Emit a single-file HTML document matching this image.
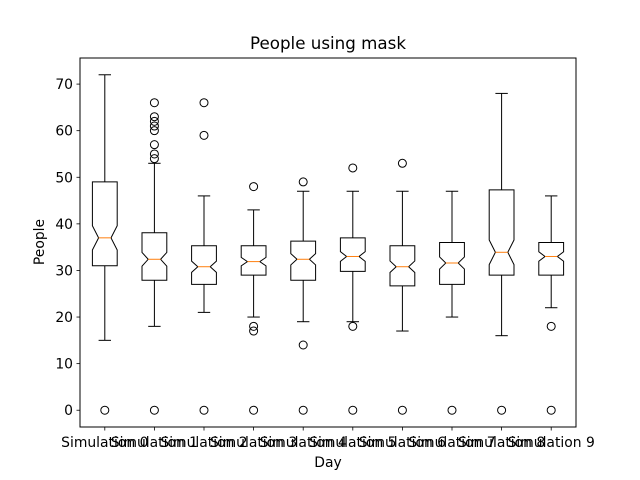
<!DOCTYPE html>
<html><head><meta charset="utf-8">
<style>body{margin:0;background:#fff}svg{display:block;font-family:"DejaVu Sans","Liberation Sans",sans-serif}</style>
</head><body>
<svg id="chart" width="640" height="480" viewBox="0 0 640 480" xmlns="http://www.w3.org/2000/svg">
<rect width="640" height="480" fill="#fff"/>
<text x="328" y="49" font-size="16.7" text-anchor="middle">People using mask</text>
<text x="328" y="467" font-size="13.9" text-anchor="middle">Day</text>
<text x="0" y="0" font-size="13.9" text-anchor="middle" transform="translate(44,242) rotate(-90)">People</text>
<g id="plot"></g>
<rect x="80" y="58" width="496" height="369" fill="none" stroke="#000" stroke-width="1"/>
</svg>
<script>
const categories = ["Simulation 0","Simulation 1","Simulation 2","Simulation 3","Simulation 4","Simulation 5","Simulation 6","Simulation 7","Simulation 8","Simulation 9"];
const whiskerLow = [15,18,21,20,19,19,17,20,16,22];
const q1 = [31,27.9,27,29,27.9,29.8,26.7,27,29,29];
const medians = [37,32.4,30.8,31.9,32.4,33,30.8,31.6,33.9,33];
const q3 = [49,38.1,35.3,35.3,36.3,37,35.3,36,47.3,36];
const whiskerHigh = [72,53,46,43,47,47,47,47,68,46];
const outliers = [[0],[0,54,55,57,60,61,62,63,66],[0,59,66],[0,17,18,48],[0,14,49],[0,18,52],[0,53],[0],[0],[0,18]];
const sampleSize = 118;
const yTicks = [0,10,20,30,40,50,60,70];

const L=80,R=576,T=58,B=427,yMin=-3.6,yMax=75.6;
const xs=i=>L+(i+0.5)*(R-L)/categories.length;
const ys=v=>B-(v-yMin)/(yMax-yMin)*(B-T);
const NS="http://www.w3.org/2000/svg";
const g=document.getElementById('plot');
function mk(tag,attrs,parent){const e=document.createElementNS(NS,tag);for(const k in attrs)e.setAttribute(k,attrs[k]);(parent||g).appendChild(e);return e;}

yTicks.forEach(v=>{
  const y=ys(v);
  const t=mk('line',{x1:L-3.5,x2:L,y1:y,y2:y,stroke:'#000','stroke-width':0.8});
  
  
  const l=mk('text',{x:L-7,y:y+5,'font-size':13.9,'text-anchor':'end'});
  l.textContent=v;
  
  
});

const bw=(R-L)/categories.length*0.5;
categories.forEach((c,i)=>{
  const x=xs(i);
  const grp=mk('g',{});
  
  
  const iqr=q3[i]-q1[i];
  const nh=1.57*iqr/Math.sqrt(sampleSize);
  const nl=medians[i]-nh, nu=medians[i]+nh;
  const x0=x-bw/2,x1=x+bw/2,xa=x-bw/4,xb=x+bw/4;
  const d=`M${x0},${ys(q1[i])}L${x1},${ys(q1[i])}L${x1},${ys(nl)}L${xb},${ys(medians[i])}L${x1},${ys(nu)}L${x1},${ys(q3[i])}L${x0},${ys(q3[i])}L${x0},${ys(nu)}L${xa},${ys(medians[i])}L${x0},${ys(nl)}Z`;
  mk('path',{d:d,fill:'none',stroke:'#000','stroke-width':1},grp);
  mk('line',{x1:x,x2:x,y1:ys(q1[i]),y2:ys(whiskerLow[i]),stroke:'#000'},grp);
  mk('line',{x1:x,x2:x,y1:ys(q3[i]),y2:ys(whiskerHigh[i]),stroke:'#000'},grp);
  mk('line',{x1:x-bw/4,x2:x+bw/4,y1:ys(whiskerLow[i]),y2:ys(whiskerLow[i]),stroke:'#000'},grp);
  mk('line',{x1:x-bw/4,x2:x+bw/4,y1:ys(whiskerHigh[i]),y2:ys(whiskerHigh[i]),stroke:'#000'},grp);
  mk('line',{x1:xa,x2:xb,y1:ys(medians[i]),y2:ys(medians[i]),stroke:'#ff7f0e'},grp);
  outliers[i].forEach(v=>{
    const o=mk('circle',{cx:x,cy:ys(v),r:4,fill:'none',stroke:'#000'},grp);
    
    
  });
  mk('line',{x1:x,x2:x,y1:B,y2:B+3.5,stroke:'#000','stroke-width':0.8});
  const lb=mk('text',{x:x,y:B+20,'font-size':13.9,'text-anchor':'middle'});
  lb.textContent=c;
  
  
});
</script>
</body></html>
